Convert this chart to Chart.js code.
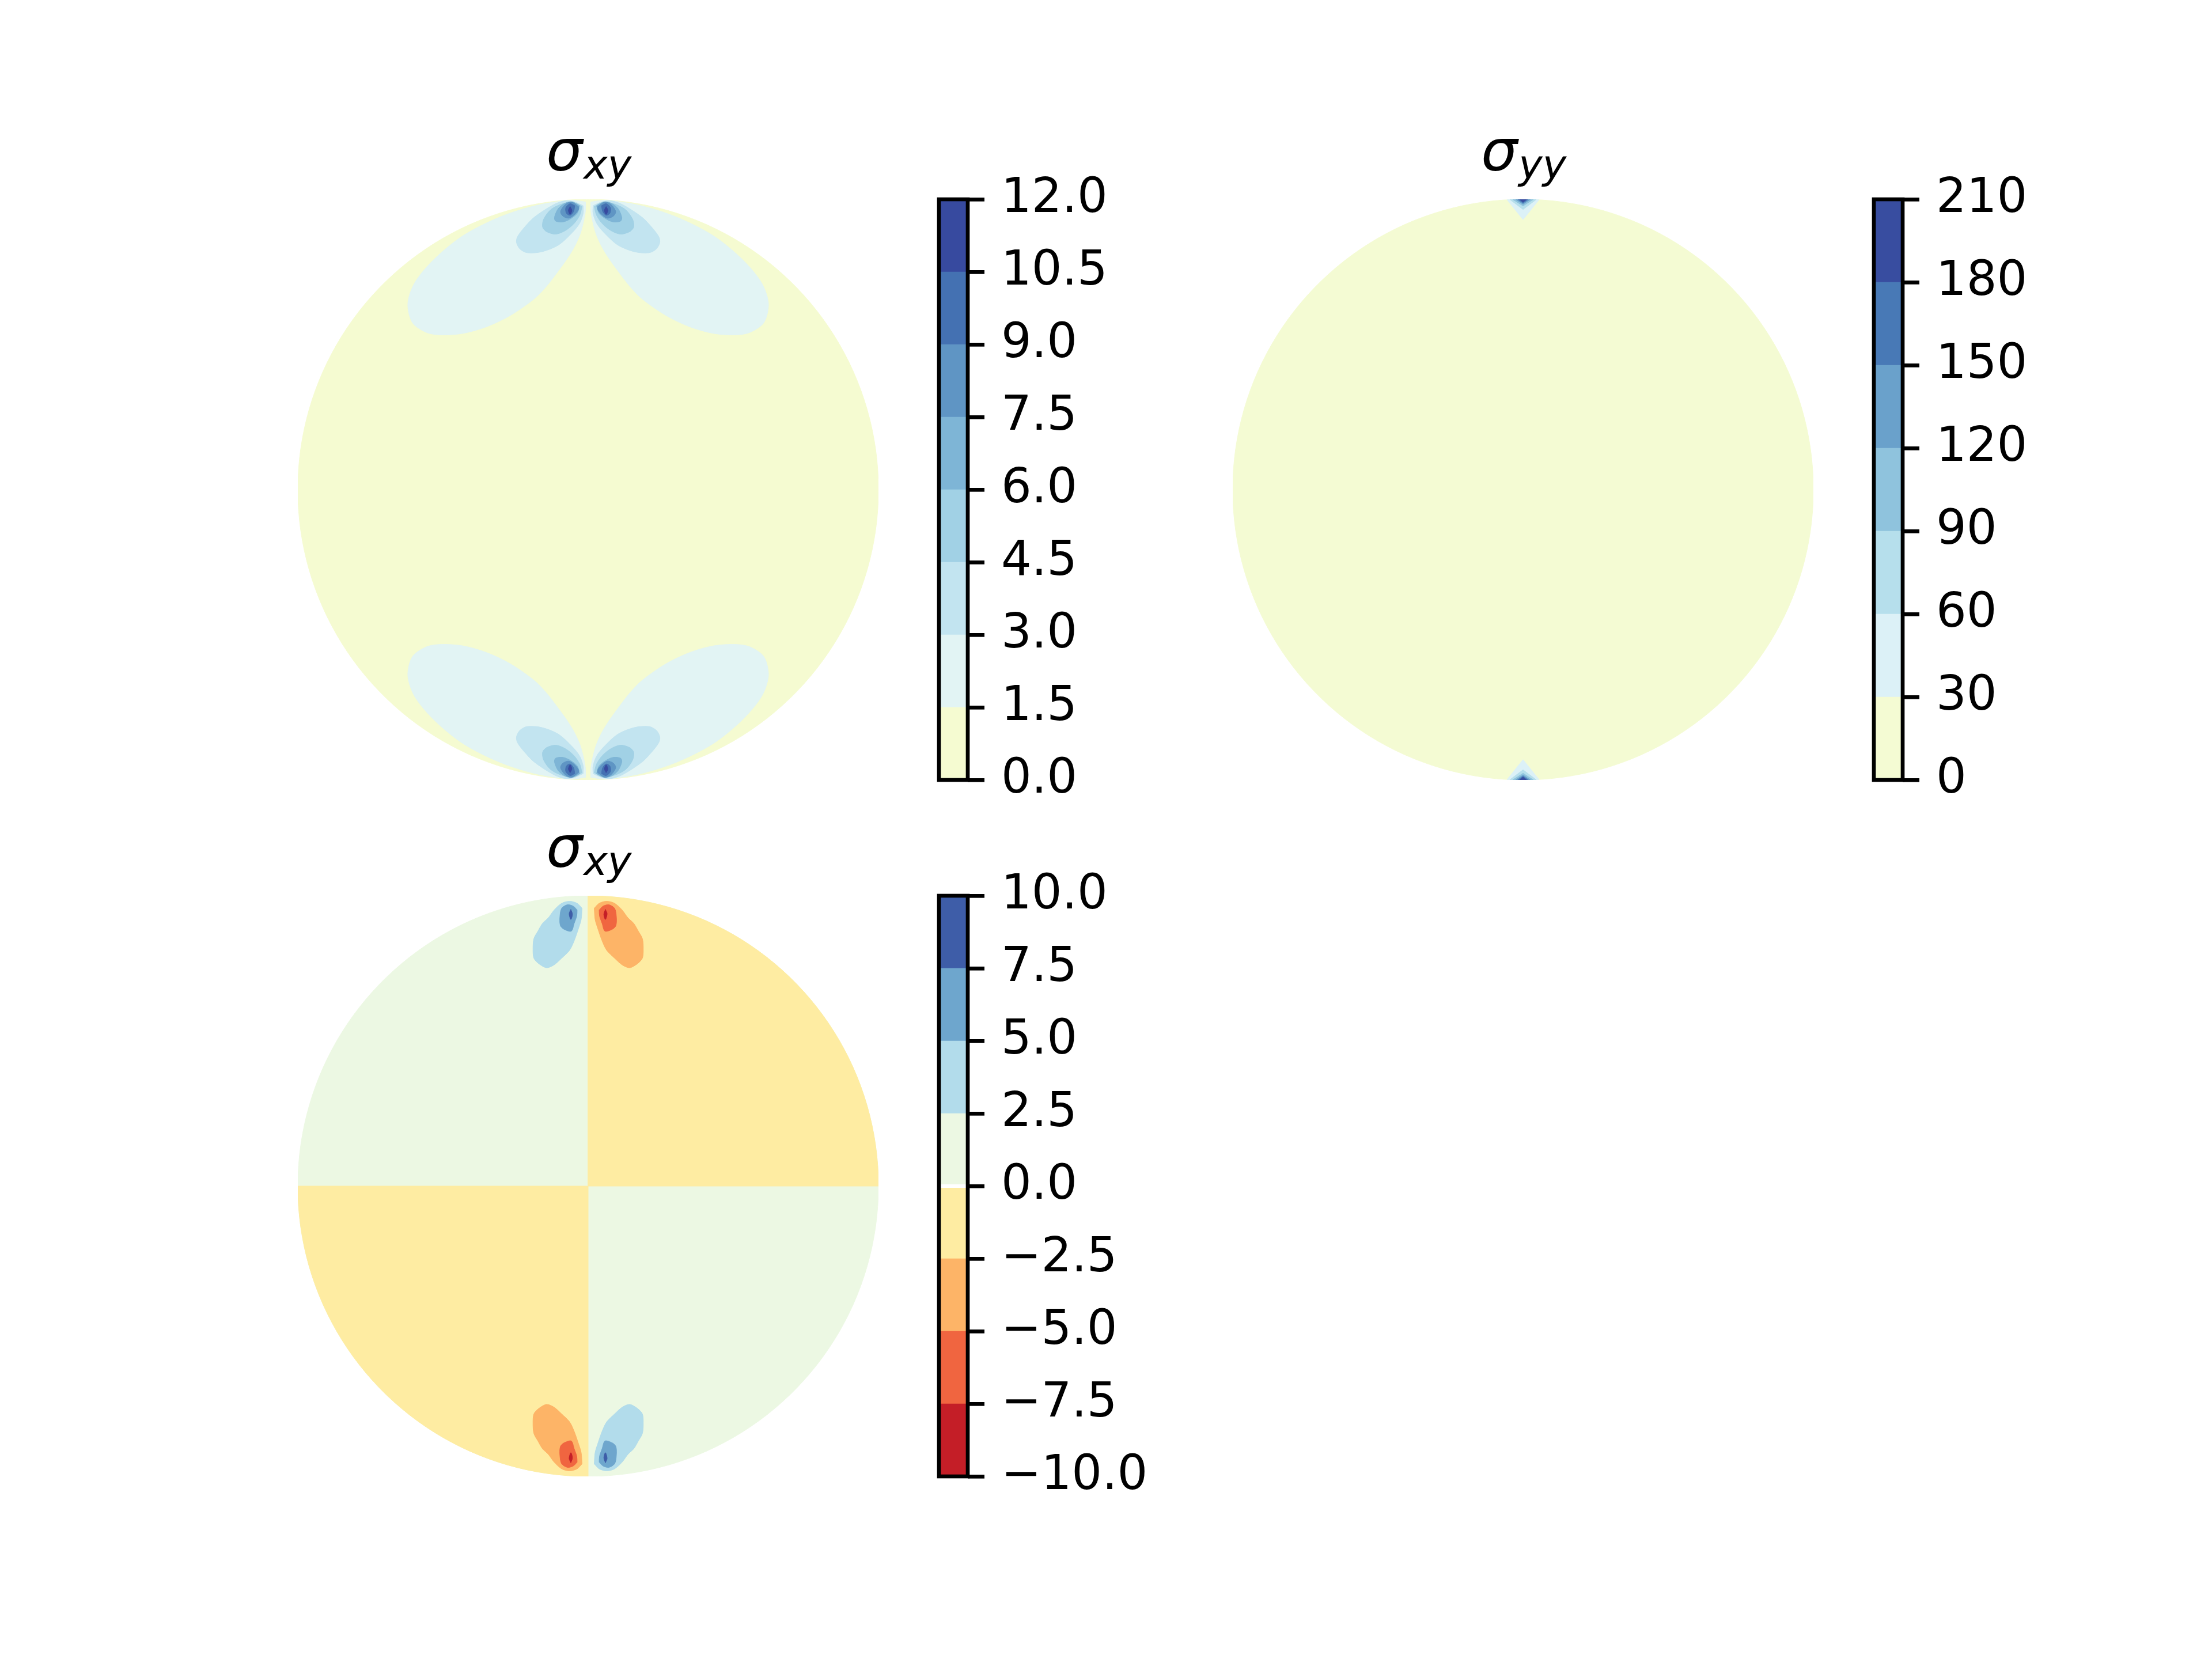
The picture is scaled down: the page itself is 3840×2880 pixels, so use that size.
<!DOCTYPE html>
<html>
<head>
<meta charset="utf-8">
<script src="https://cdn.jsdelivr.net/npm/chart.js@4.4.1/dist/chart.umd.min.js"></script>
<style>
  body { margin: 0; background: #fff; }
  #fig { position: relative; width: 3840px; height: 2880px; background: #fff; }
  canvas { position: absolute; }
</style>
</head>
<body>
<div id="fig"></div>
<script>
// contour levels = colorbar tick labels
let niveisXY = [0, 1.5, 3, 4.5, 6, 7.5, 9, 10.5, 12];
let niveisYY = [0, 30, 60, 90, 120, 150, 180, 210];
let niveisXY2 = [-10, -7.5, -5, -2.5, 0, 2.5, 5, 7.5, 10];

// band colours (RdYlBu, symmetric norm)
let coresXY = ["#f5fbd1", "#e2f4f4", "#c2e4f0", "#a1d1e5", "#7eb5d6", "#5f95c4", "#4471b2", "#374a9f"];
let coresYY = ["#f4fbd3", "#dcf1f7", "#b6dfec", "#8fc3dd", "#6aa1cb", "#4879b6", "#384da0"];
let coresXY2 = ["#c41e27", "#f06540", "#fdb467", "#feeca2", "#ecf8e3", "#b2dceb", "#6ea6cd", "#3e5da8"];

// |sigma_xy| : outlines of the upper right lobe (disk radius 1), one per level
let lobo15 = [[0.009,0.991],[0.062,0.997],[0.186,0.977],[0.309,0.937],[0.432,0.874],[0.531,0.793],[0.597,0.713],[0.621,0.641],[0.605,0.575],[0.556,0.541],[0.506,0.533],[0.432,0.538],[0.350,0.561],[0.268,0.600],[0.186,0.657],[0.144,0.700],[0.103,0.753],[0.070,0.799],[0.046,0.839],[0.028,0.879],[0.017,0.918],[0.0095,0.958]];
let lobo30 = [[0.017,0.978],[0.046,0.991],[0.079,0.995],[0.120,0.981],[0.186,0.938],[0.218,0.905],[0.243,0.872],[0.247,0.852],[0.235,0.829],[0.210,0.816],[0.161,0.819],[0.103,0.842],[0.054,0.886],[0.029,0.918],[0.017,0.952]];
let lobo45 = [[0.021,0.975],[0.046,0.988],[0.087,0.985],[0.128,0.965],[0.153,0.932],[0.157,0.905],[0.144,0.889],[0.112,0.880],[0.079,0.892],[0.050,0.915],[0.029,0.945]];
let lobo60 = [[0.029,0.978],[0.054,0.991],[0.079,0.987],[0.103,0.968],[0.116,0.938],[0.112,0.925],[0.087,0.922],[0.062,0.932],[0.0375,0.952]];
let lobo75 = [[0.033,0.975],[0.058,0.991],[0.079,0.982],[0.095,0.958],[0.087,0.942],[0.066,0.935],[0.046,0.948],[0.033,0.965]];
let lobo90 = [[0.046,0.978],[0.062,0.985],[0.077,0.971],[0.075,0.952],[0.062,0.945],[0.050,0.958]];
let lobo105 = [[0.062,0.975],[0.068,0.962],[0.062,0.948],[0.056,0.962]];
let lobosXY = [lobo15, lobo30, lobo45, lobo60, lobo75, lobo90, lobo105];

// sigma_yy : wedge under the top load point, one per level
let cunha30 = [[-0.055,0.9985],[0,0.930],[0.055,0.9985],[0,1.0]];
let cunha60 = [[-0.045,0.999],[0,0.965],[0.045,0.999],[0,1.0]];
let cunha90 = [[-0.035,0.9994],[0,0.977],[0.035,0.9994],[0,1.0]];
let cunha120 = [[-0.025,0.9997],[0,0.983],[0.025,0.9997],[0,1.0]];
let cunha150 = [[-0.018,0.9998],[0,0.987],[0.018,0.9998],[0,1.0]];
let cunha180 = [[-0.012,0.9999],[0,0.990],[0.012,0.9999],[0,1.0]];
let cunhasYY = [cunha30, cunha60, cunha90, cunha120, cunha150, cunha180];

// signed sigma_xy : negative lobe in the upper right quadrant (-2.5, -5, -7.5)
let neg25 = [[0.021,0.957],[0.038,0.974],[0.064,0.981],[0.091,0.974],[0.117,0.951],[0.137,0.924],[0.157,0.905],[0.173,0.878],[0.187,0.852],[0.190,0.818],[0.187,0.785],[0.170,0.766],[0.143,0.752],[0.117,0.762],[0.091,0.785],[0.064,0.812],[0.048,0.845],[0.034,0.885],[0.024,0.918]];
let neg50 = [[0.038,0.951],[0.051,0.964],[0.071,0.969],[0.091,0.957],[0.097,0.931],[0.096,0.898],[0.084,0.885],[0.058,0.878],[0.048,0.905],[0.039,0.931]];
let neg75 = [[0.0595,0.953],[0.0655,0.938],[0.0595,0.918],[0.054,0.936]];
let lobosXY2 = [neg25, neg50, neg75];

// disk outline
function arco(de, ate) {
  let pts = [];
  for (let a = de; a <= ate; a += 2) {
    let r = a * Math.PI / 180;
    pts.push([Math.cos(r), Math.sin(r)]);
  }
  return pts;
}

function espelhar(pts, sx, sy) {
  return pts.map(p => [p[0] * sx, p[1] * sy]);
}

function poligono(pts, cor, tensao) {
  let d = pts.map(p => ({ x: p[0], y: p[1] }));
  d.push({ x: pts[0][0], y: pts[0][1] });
  return {
    data: d,
    backgroundColor: cor,
    borderColor: cor,
    borderWidth: 1,
    pointRadius: 0,
    fill: "shape",
    tension: tensao
  };
}

function tituloSigma(sub) {
  return {
    id: "titulo",
    afterDraw(chart) {
      let ctx = chart.ctx;
      let a = chart.chartArea;
      ctx.save();
      ctx.fillStyle = "#000";
      ctx.textBaseline = "alphabetic";
      ctx.font = 'italic 100px "DejaVu Sans"';
      let w1 = ctx.measureText("σ").width;
      ctx.font = 'italic 70px "DejaVu Sans"';
      let w2 = ctx.measureText(sub).width;
      let x0 = (a.left + a.right) / 2 - (w1 + w2) / 2;
      let base = a.top - 50;
      ctx.font = 'italic 100px "DejaVu Sans"';
      ctx.fillText("σ", x0, base);
      ctx.font = 'italic 70px "DejaVu Sans"';
      ctx.fillText(sub, x0 + w1 + 2, base + 14);
      ctx.restore();
    }
  };
}

let contorno = {
  id: "contorno",
  afterDraw(chart) {
    let a = chart.chartArea;
    let ctx = chart.ctx;
    ctx.save();
    ctx.lineWidth = 6.67;
    ctx.strokeStyle = "#000";
    ctx.strokeRect(a.left, a.top, a.right - a.left, a.bottom - a.top);
    ctx.restore();
  }
};

function novoCanvas(left, top, w, h) {
  let c = document.createElement("canvas");
  c.width = w;
  c.height = h;
  c.style.left = left + "px";
  c.style.top = top + "px";
  document.getElementById("fig").appendChild(c);
  return c;
}

// contour panel: 1008x1008 axes, 200px above for the title
function criarDisco(left, top, datasets, sub) {
  let n = datasets.length;
  datasets.forEach((d, i) => { d.order = n - i; });
  let el = novoCanvas(left, top - 200, 1008, 1208);
  new Chart(el, {
    type: "line",
    data: { datasets: datasets },
    options: {
      responsive: false,
      animation: false,
      events: [],
      layout: { padding: { top: 200, left: 0, right: 0, bottom: 0 } },
      plugins: { legend: { display: false }, tooltip: { enabled: false } },
      scales: {
        x: { type: "linear", min: -1, max: 1, display: false },
        y: { type: "linear", min: -1, max: 1, display: false }
      }
    },
    plugins: [tituloSigma(sub)]
  });
}

// colorbar: floating bars, one per band
function criarBarra(left, top, niveis, cores, formato) {
  let el = novoCanvas(left - 10, top - 60, 460, 1128);
  let datasets = cores.map((c, i) => ({
    data: [[niveis[i], niveis[i + 1]]],
    backgroundColor: c,
    borderWidth: 0,
    barPercentage: 1,
    categoryPercentage: 1,
    grouped: false
  }));
  new Chart(el, {
    type: "bar",
    data: { labels: [""], datasets: datasets },
    options: {
      responsive: false,
      animation: false,
      events: [],
      layout: { padding: { left: 10, right: 0, top: 60, bottom: 60 } },
      plugins: { legend: { display: false }, tooltip: { enabled: false } },
      scales: {
        x: { display: false },
        y: {
          position: "right",
          min: niveis[0],
          max: niveis[niveis.length - 1],
          afterFit: s => { s.width = 400; s.paddingTop = 0; s.paddingBottom = 0; },
          afterBuildTicks: s => { s.ticks = niveis.map(v => ({ value: v })); },
          ticks: {
            callback: formato,
            autoSkip: false,
            color: "#000",
            padding: 29,
            font: { family: "DejaVu Sans", size: 83 }
          },
          grid: { drawOnChartArea: false, drawTicks: true, tickLength: 29, color: "#000", lineWidth: 6.67 },
          border: { display: false }
        }
      }
    },
    plugins: [contorno]
  });
}

// panel 1: |sigma_xy|
let ds1 = [poligono(arco(0, 360), coresXY[0], 0)];
lobosXY.forEach((lobo, i) => {
  [[1, 1], [-1, 1], [1, -1], [-1, -1]].forEach(s => {
    ds1.push(poligono(espelhar(lobo, s[0], s[1]), coresXY[i + 1], 0.3));
  });
});
criarDisco(517, 346, ds1, "xy");
criarBarra(1630, 346, niveisXY, coresXY, v => v.toFixed(1));

// panel 2: sigma_yy
let ds2 = [poligono(arco(0, 360), coresYY[0], 0)];
cunhasYY.forEach((c, i) => {
  ds2.push(poligono(c, coresYY[i + 1], 0));
  ds2.push(poligono(espelhar(c, 1, -1), coresYY[i + 1], 0));
});
criarDisco(2140, 346, ds2, "yy");
criarBarra(3253, 346, niveisYY, coresYY, v => String(v));

// panel 3: signed sigma_xy
let ds3 = [poligono(arco(0, 360), coresXY2[4], 0)];
ds3.push(poligono([[0, 0]].concat(arco(0, 90)), coresXY2[3], 0));
ds3.push(poligono([[0, 0]].concat(arco(180, 270)), coresXY2[3], 0));
lobosXY2.forEach((lobo, i) => {
  // negative lobes: upper right and lower left
  ds3.push(poligono(lobo, coresXY2[2 - i], 0.3));
  ds3.push(poligono(espelhar(lobo, -1, -1), coresXY2[2 - i], 0.3));
  // positive lobes: upper left and lower right
  ds3.push(poligono(espelhar(lobo, -1, 1), coresXY2[5 + i], 0.3));
  ds3.push(poligono(espelhar(lobo, 1, -1), coresXY2[5 + i], 0.3));
});
criarDisco(517, 1555, ds3, "xy");
criarBarra(1630, 1555, niveisXY2, coresXY2, v => v.toFixed(1).replace("-", "\u2212"));
</script>
</body>
</html>
